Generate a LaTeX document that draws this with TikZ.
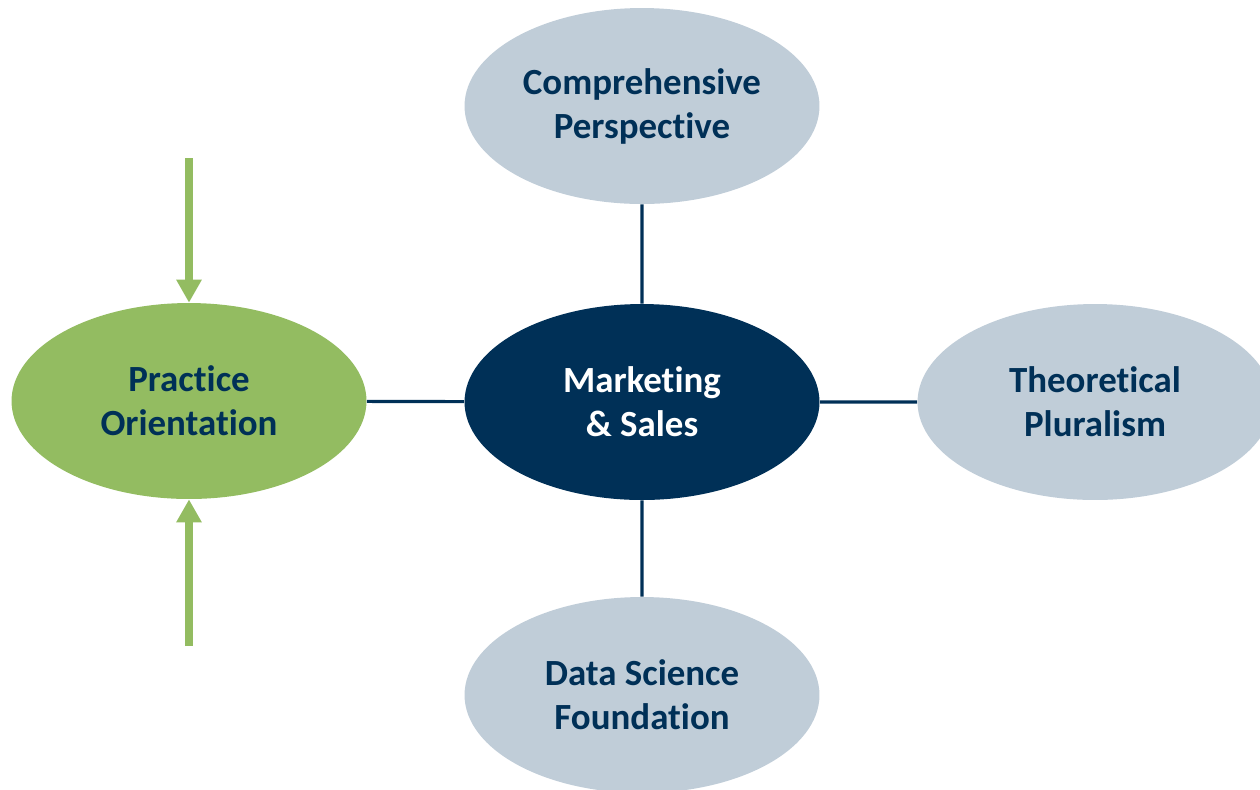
\documentclass[tikz,border=0pt]{standalone}
\usepackage{fontspec}
\setmainfont{Carlito}[Ligatures=NoCommon]
\usepackage{tikz}
\usetikzlibrary{shapes.geometric,arrows.meta}

\definecolor{navy}{RGB}{0,48,87}
\definecolor{paleblue}{RGB}{192,205,216}
\definecolor{leafgreen}{RGB}{147,188,97}

\begin{document}
\begin{tikzpicture}[x=0.02cm,y=-0.02cm,
  pillar node/.style={ellipse,fill=paleblue,text=navy,minimum width=7.1cm,minimum height=3.92cm,align=center,font=\fontsize{21}{25}\selectfont\bfseries},
  core node/.style={pillar node,fill=navy,text=white},
  focus node/.style={pillar node,fill=leafgreen},
  link/.style={draw=navy,line width=1.8pt},
  push/.style={draw=leafgreen,line width=0.16cm,-{Triangle[width=0.48cm,length=0.46cm]}}]

\useasboundingbox (0,0) rectangle (1260,789);

\node at (642,402) [core node] (M) {Marketing\\\& Sales};
\node at (642,106) [pillar node] (C) {Comprehensive\\Perspective};
\node at (1095,402) [pillar node] (T) {Theoretical\\Pluralism};
\node at (642,695) [pillar node] (D) {Data Science\\Foundation};
\node at (189,401) [focus node] (P) {Practice\\Orientation};

\coordinate (Pin1) at (189,158);
\coordinate (Pin2) at (189,646);

\draw[link] (C) -- (M) -- (D)
            (P) -- (M) -- (T);

\draw[push] (Pin1) -- (P.north);
\draw[push] (Pin2) -- (P.south);

\end{tikzpicture}
\end{document}
